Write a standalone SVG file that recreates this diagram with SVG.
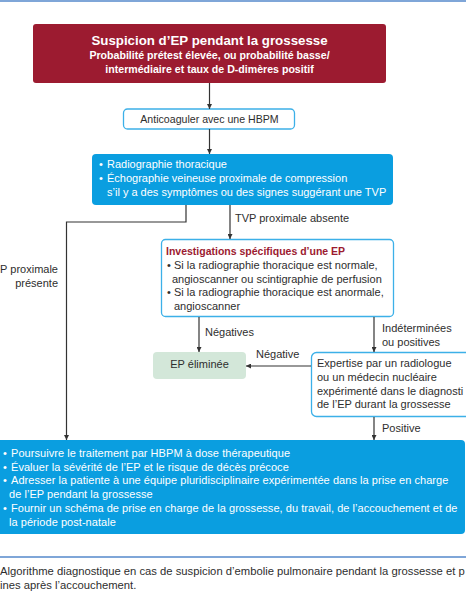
<svg xmlns="http://www.w3.org/2000/svg" width="466" height="600" viewBox="0 0 466 600">
<defs>
<marker id="ah" viewBox="0 0 10 10" refX="10" refY="5" markerWidth="5" markerHeight="5" orient="auto" markerUnits="userSpaceOnUse">
<path d="M0,0 L10,5 L0,10 z" fill="#333"/>
</marker>
</defs>
<style>
text{font-family:"Liberation Sans",Arial,sans-serif;font-size:11px;fill:#2e2e2e}
.w{fill:#fff}
.b{font-weight:bold}
.red{fill:#9c1b30;font-weight:bold;font-size:10.5px}
.outline{fill:#fff;stroke:#3cb0e8;stroke-width:1.3}
.blue{fill:#0a9ee0}
.con{fill:none;stroke:#333;stroke-width:1.2}
.rule{stroke:#7fa6d8;stroke-width:2}
.wide{letter-spacing:0.05px}
.cap{font-size:11.25px}
</style>
<rect width="466" height="600" fill="#fff"/>
<line class="rule" x1="0" y1="1" x2="466" y2="1"/>

<g id="n_suspicion">
<rect x="33" y="24" width="353" height="59" rx="3" fill="#9c1b30"/>
<text class="w b" x="209.5" y="45" text-anchor="middle" style="font-size:13.3px">Suspicion d’EP pendant la grossesse</text>
<text class="w b" x="209.5" y="58.5" text-anchor="middle" style="font-size:10.6px">Probabilité prétest élevée, ou probabilité basse/</text>
<text class="w b" x="209.5" y="72.5" text-anchor="middle" style="font-size:10.6px">intermédiaire et taux de D-dimères positif</text>
</g>

<g id="n_anticoag">
<rect class="outline" x="123.5" y="109" width="171" height="20" rx="4"/>
<text x="209.5" y="122.5" text-anchor="middle" style="font-size:10.6px">Anticoaguler avec une HBPM</text>
</g>

<g id="n_radio">
<rect class="blue" x="92" y="154" width="301" height="51" rx="4"/>
<text class="w" x="99" y="168">•</text>
<text class="w" x="107" y="168">Radiographie thoracique</text>
<text class="w" x="99" y="182">•</text>
<text class="w" x="107" y="182">Échographie veineuse proximale de compression</text>
<text class="w" x="107" y="196">s’il y a des symptômes ou des signes suggérant une TVP</text>
</g>

<g id="n_invest">
<rect class="outline" x="161.5" y="239.5" width="232" height="77" rx="4"/>
<text class="red" x="166" y="255">Investigations spécifiques d’une EP</text>
<text x="167" y="269">•</text>
<text x="174" y="269">Si la radiographie thoracique est normale,</text>
<text x="172" y="282.5">angioscanner ou scintigraphie de perfusion</text>
<text x="167" y="296">•</text>
<text x="174" y="296">Si la radiographie thoracique est anormale,</text>
<text x="174" y="309.5">angioscanner</text>
</g>

<g id="n_elim">
<rect x="153" y="352" width="93" height="27" rx="4" fill="#d3e7d9"/>
<text x="199.5" y="368" text-anchor="middle">EP éliminée</text>
</g>

<g id="n_expertise">
<rect class="outline" x="311.5" y="352.5" width="170" height="64" rx="5"/>
<text x="317" y="367">Expertise par un radiologue</text>
<text x="317" y="381">ou un médecin nucléaire</text>
<text x="317" y="394.5">expérimenté dans le diagnosti</text>
<text x="317" y="408">de l’EP durant la grossesse</text>
</g>

<g id="n_traitement">
<rect class="blue" x="-10" y="440" width="475" height="94" rx="4"/>
<text class="w" x="3" y="457">•</text>
<text class="w wide" x="11" y="457">Poursuivre le traitement par HBPM à dose thérapeutique</text>
<text class="w" x="3" y="470.5">•</text>
<text class="w wide" x="11" y="470.5">Évaluer la sévérité de l’EP et le risque de décès précoce</text>
<text class="w" x="3" y="484">•</text>
<text class="w wide" x="11" y="484">Adresser la patiente à une équipe pluridisciplinaire expérimentée dans la prise en charge</text>
<text class="w wide" x="9" y="498">de l’EP pendant la grossesse</text>
<text class="w" x="3" y="512">•</text>
<text class="w wide" x="11" y="512">Fournir un schéma de prise en charge de la grossesse, du travail, de l’accouchement et de</text>
<text class="w wide" x="9" y="526">la période post-natale</text>
</g>

<g id="connectors">
<line class="con" x1="209.5" y1="83" x2="209.5" y2="109" marker-end="url(#ah)"/>
<line class="con" x1="209.5" y1="129" x2="209.5" y2="154" marker-end="url(#ah)"/>
<polyline class="con" points="186,205 186,222 66.5,222 66.5,440" marker-end="url(#ah)"/>
<line class="con" x1="230" y1="205" x2="230" y2="239" marker-end="url(#ah)"/>
<line class="con" x1="199" y1="317" x2="199" y2="352" marker-end="url(#ah)"/>
<line class="con" x1="374" y1="317" x2="374" y2="352" marker-end="url(#ah)"/>
<line class="con" x1="311" y1="366" x2="246" y2="366" marker-end="url(#ah)"/>
<line class="con" x1="374" y1="417" x2="374" y2="440" marker-end="url(#ah)"/>
<text x="235" y="222">TVP proximale absente</text>
<text x="58" y="273" text-anchor="end">P proximale</text>
<text x="58" y="287" text-anchor="end">présente</text>
<text x="205" y="336">Négatives</text>
<text x="382" y="332">Indéterminées</text>
<text x="382" y="346">ou positives</text>
<text x="256" y="357.5">Négative</text>
<text x="382" y="432">Positive</text>
</g>

<line class="rule" x1="0" y1="557" x2="466" y2="557"/>
<text class="cap" x="0" y="575">Algorithme diagnostique en cas de suspicion d’embolie pulmonaire pendant la grossesse et p</text>
<text class="cap" x="0" y="588.5">ines après l’accouchement.</text>
</svg>
